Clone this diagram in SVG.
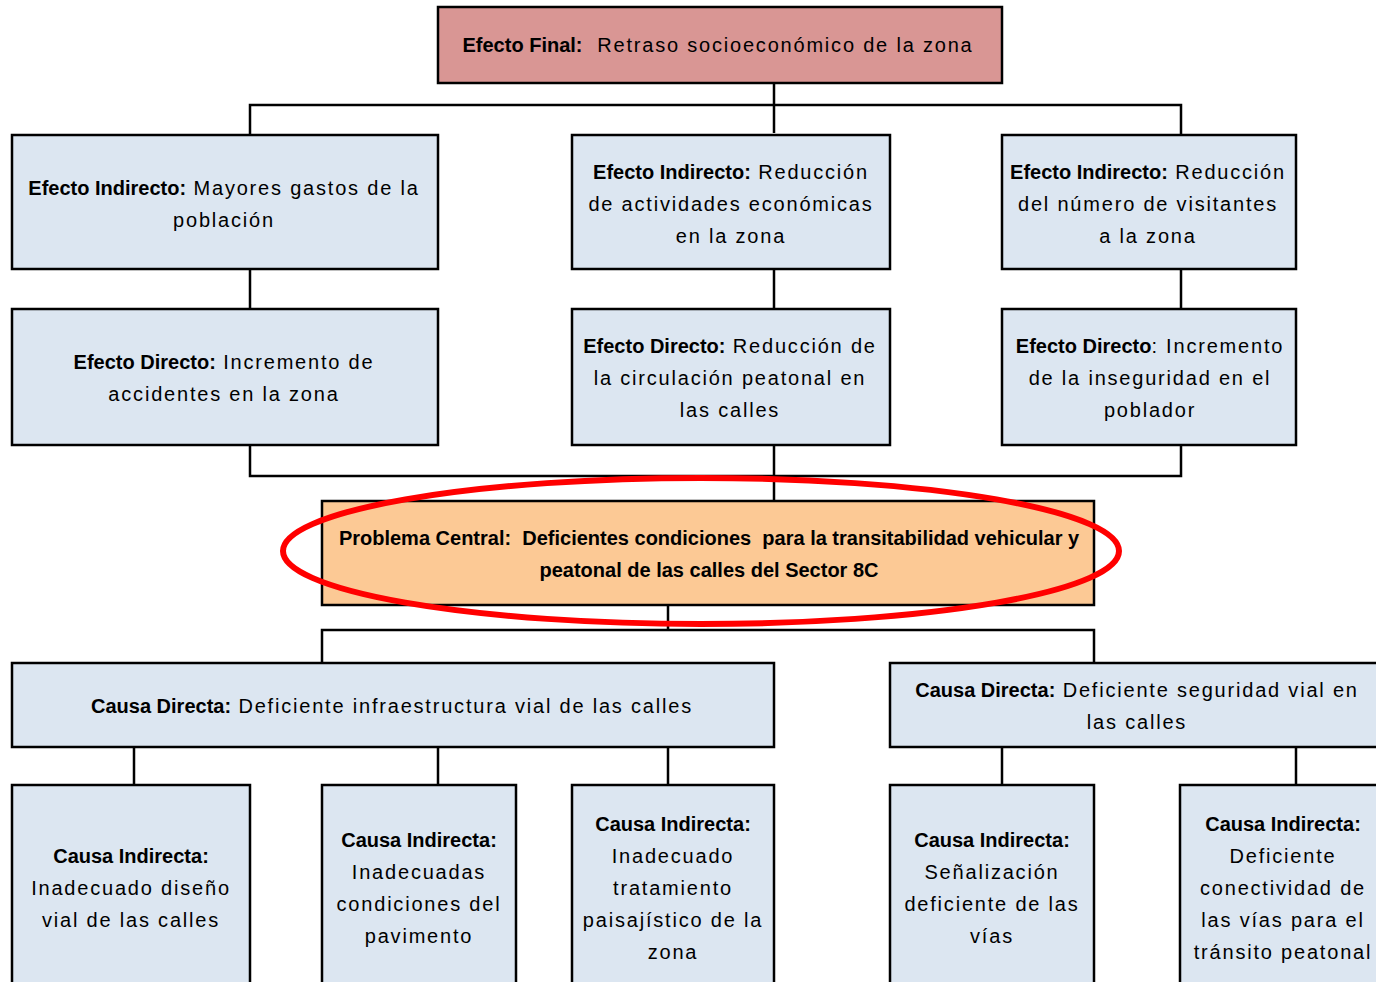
<svg xmlns="http://www.w3.org/2000/svg" width="1376" height="982" viewBox="0 0 1376 982" xml:space="preserve">
<style>
.box{fill:#dce6f1;stroke:#000;stroke-width:2.5}
.fin{fill:#d99694;stroke:#000;stroke-width:2.5}
.pc{fill:#fcc995;stroke:#000;stroke-width:2.5}
.ln{fill:none;stroke:#000;stroke-width:2.5}
text{font-family:"Liberation Sans",Arial,sans-serif;font-size:20px;fill:#000;text-anchor:middle;white-space:pre}
.b{font-weight:bold;letter-spacing:0}
.r{letter-spacing:1.8px}
.pt{font-weight:bold;font-size:20px;letter-spacing:0}
</style>
<rect width="1376" height="982" fill="#fff"/>
<g id="connectors">
<path class="ln" d="M774 83V133M250 134V105H1181V134M250 269V309M774 269V309M1181 269V309M250 445V476H1181V445M774 445V501M668 605V630M322 663V630H1094V663M134 747V785M438 747V785M668 747V785M1002 747V785M1296 747V785"/>
</g>
<g id="n-final"><rect class="fin" x="438" y="7" width="564" height="76"/>
<text x="718" y="52"><tspan class="b">Efecto Final:</tspan><tspan class="r">  Retraso socioeconómico de la zona</tspan></text></g>
<g id="n-ei1"><rect class="box" x="12" y="135" width="426" height="134"/>
<text x="224" y="195"><tspan class="b">Efecto Indirecto:</tspan><tspan class="r"> Mayores gastos de la</tspan></text>
<text x="224" y="227" class="r">población</text></g>
<g id="n-ei2"><rect class="box" x="572" y="135" width="318" height="134"/>
<text x="731" y="179"><tspan class="b">Efecto Indirecto:</tspan><tspan class="r"> Reducción</tspan></text>
<text x="731" y="211" class="r">de actividades económicas</text>
<text x="731" y="243" class="r">en la zona</text></g>
<g id="n-ei3"><rect class="box" x="1002" y="135" width="294" height="134"/>
<text x="1148" y="179"><tspan class="b">Efecto Indirecto:</tspan><tspan class="r"> Reducción</tspan></text>
<text x="1148" y="211" class="r">del número de visitantes</text>
<text x="1148" y="243" class="r">a la zona</text></g>
<g id="n-ed1"><rect class="box" x="12" y="309" width="426" height="136"/>
<text x="224" y="369"><tspan class="b">Efecto Directo:</tspan><tspan class="r"> Incremento de</tspan></text>
<text x="224" y="401" class="r">accidentes en la zona</text></g>
<g id="n-ed2"><rect class="box" x="572" y="309" width="318" height="136"/>
<text x="730" y="353"><tspan class="b">Efecto Directo:</tspan><tspan class="r"> Reducción de</tspan></text>
<text x="730" y="385" class="r">la circulación peatonal en</text>
<text x="730" y="417" class="r">las calles</text></g>
<g id="n-ed3"><rect class="box" x="1002" y="309" width="294" height="136"/>
<text x="1150" y="353"><tspan class="b">Efecto Directo</tspan><tspan class="r">: Incremento</tspan></text>
<text x="1150" y="385" class="r">de la inseguridad en el</text>
<text x="1150" y="417" class="r">poblador</text></g>
<g id="n-pc"><rect class="pc" x="322" y="501" width="772" height="104"/>
<text x="709" y="545" class="pt">Problema Central:  Deficientes condiciones  para la transitabilidad vehicular y</text>
<text x="709" y="577" class="pt">peatonal de las calles del Sector 8C</text>
<ellipse cx="701" cy="551" rx="418" ry="73" fill="none" stroke="#ff0000" stroke-width="6"/></g>
<g id="n-cd1"><rect class="box" x="12" y="663" width="762" height="84"/>
<text x="392" y="713"><tspan class="b">Causa Directa:</tspan><tspan class="r"> Deficiente infraestructura vial de las calles</tspan></text></g>
<g id="n-cd2"><rect class="box" x="890" y="663" width="500" height="84"/>
<text x="1137" y="697"><tspan class="b">Causa Directa:</tspan><tspan class="r"> Deficiente seguridad vial en</tspan></text>
<text x="1137" y="729" class="r">las calles</text></g>
<g id="n-ci1"><rect class="box" x="12" y="785" width="238" height="210"/>
<text x="131" y="863" class="b">Causa Indirecta:</text>
<text x="131" y="895" class="r">Inadecuado diseño</text>
<text x="131" y="927" class="r">vial de las calles</text></g>
<g id="n-ci2"><rect class="box" x="322" y="785" width="194" height="210"/>
<text x="419" y="847" class="b">Causa Indirecta:</text>
<text x="419" y="879" class="r">Inadecuadas</text>
<text x="419" y="911" class="r">condiciones del</text>
<text x="419" y="943" class="r">pavimento</text></g>
<g id="n-ci3"><rect class="box" x="572" y="785" width="202" height="210"/>
<text x="673" y="831" class="b">Causa Indirecta:</text>
<text x="673" y="863" class="r">Inadecuado</text>
<text x="673" y="895" class="r">tratamiento</text>
<text x="673" y="927" class="r">paisajístico de la</text>
<text x="673" y="959" class="r">zona</text></g>
<g id="n-ci4"><rect class="box" x="890" y="785" width="204" height="210"/>
<text x="992" y="847" class="b">Causa Indirecta:</text>
<text x="992" y="879" class="r">Señalización</text>
<text x="992" y="911" class="r">deficiente de las</text>
<text x="992" y="943" class="r">vías</text></g>
<g id="n-ci5"><rect class="box" x="1180" y="785" width="210" height="210"/>
<text x="1283" y="831" class="b">Causa Indirecta:</text>
<text x="1283" y="863" class="r">Deficiente</text>
<text x="1283" y="895" class="r">conectividad de</text>
<text x="1283" y="927" class="r">las vías para el</text>
<text x="1283" y="959" class="r">tránsito peatonal</text></g>
</svg>
